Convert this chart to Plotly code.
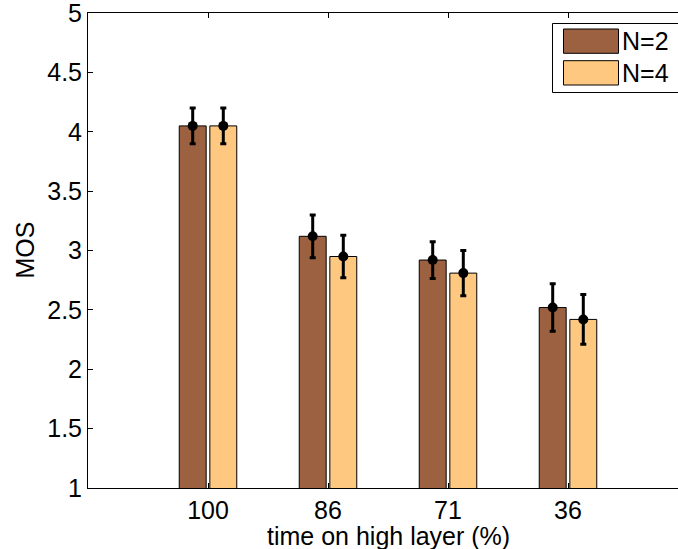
import plotly.graph_objects as go

categories = ["100", "86", "71", "36"]
mos_n2 = [4.05, 3.12, 2.92, 2.52]
mos_n4 = [4.05, 2.95, 2.81, 2.42]
err_n2 = [0.15, 0.18, 0.155, 0.20]
err_n4 = [0.15, 0.18, 0.19, 0.21]
series_names = ["N=2", "N=4"]
xpos = [1, 2, 3, 4]
yticks = [1, 1.5, 2, 2.5, 3, 3.5, 4, 4.5, 5]

c_n2 = "#9B6140"
c_n4 = "#FFC880"
FONT = "Liberation Sans, Arial, Helvetica, sans-serif"
FS = 25

L, T, B = 88, 13, 488
PW, PH = 678 - L, B - T

fig = go.Figure()
for name, vals, col in [(series_names[0], mos_n2, c_n2), (series_names[1], mos_n4, c_n4)]:
    fig.add_trace(go.Bar(x=xpos, y=vals, base=0, name=name, offsetgroup=name,
                         marker=dict(color=col, line=dict(color="black", width=1)),
                         showlegend=False))
for name, vals, errs in [(series_names[0], mos_n2, err_n2), (series_names[1], mos_n4, err_n4)]:
    fig.add_trace(go.Scatter(x=xpos, y=vals, mode="markers", offsetgroup=name,
                             marker=dict(symbol="circle", size=10, color="black"),
                             error_y=dict(type="data", array=errs, color="black",
                                          thickness=3, width=3),
                             showlegend=False))

fig.update_layout(
    width=678, height=549,
    margin=dict(l=L, r=0, t=T, b=549 - B),
    paper_bgcolor="white", plot_bgcolor="white",
    barmode="group", bargap=0.49, bargroupgap=0.12,
    scattermode="group", scattergap=0.49,
    font=dict(family=FONT, size=FS, color="black"),
    xaxis=dict(range=[0, (678 - L) / 120], tickvals=xpos, ticktext=categories,
               ticks="inside", ticklen=5, tickcolor="black", showline=True,
               linecolor="black", linewidth=1, showgrid=False, zeroline=False,
               automargin=False),
    xaxis2=dict(overlaying="x", matches="x", side="top",
                tickvals=xpos, showticklabels=False, ticks="inside", ticklen=5,
                tickcolor="black", showline=True, linecolor="black", linewidth=1,
                showgrid=False, zeroline=False, automargin=False),
    yaxis=dict(range=[1, 5.001], tickvals=yticks, ticktext=[f"{v:g}" for v in yticks],
               ticks="inside", ticklen=5, tickcolor="black",
               showline=True, linecolor="black", linewidth=1, showgrid=False,
               zeroline=False, automargin=False, ticklabeloverflow="allow"),
)
fig.add_trace(go.Scatter(x=[None], y=[None], xaxis="x2", showlegend=False))

# axis titles
fig.add_annotation(xref="paper", yref="paper", x=(388 - L) / PW, y=0, yshift=-48,
                   text="time on high layer (%)", showarrow=False,
                   xanchor="center", yanchor="middle", font=dict(size=FS))
fig.add_annotation(xref="paper", yref="paper", x=0, xshift=24 - L, y=0.5,
                   text="MOS", textangle=-90, showarrow=False,
                   xanchor="center", yanchor="middle", font=dict(size=FS))

# legend box
fig.add_shape(type="rect", xref="paper", yref="paper",
              x0=(552.5 - L) / PW, x1=1.02, y0=(B - 92.5) / PH, y1=(B - 23.5) / PH,
              line=dict(color="black", width=1), fillcolor="white")
for i, (name, col) in enumerate([(series_names[0], c_n2), (series_names[1], c_n4)]):
    ytop = 29 + i * 31.7
    fig.add_shape(type="rect", xref="paper", yref="paper",
                  x0=(563.5 - L) / PW, x1=(618.5 - L) / PW,
                  y0=(B - ytop - 24.3) / PH, y1=(B - ytop) / PH,
                  line=dict(color="black", width=1), fillcolor=col)
    fig.add_annotation(xref="paper", yref="paper", x=(620 - L) / PW,
                       y=(B - ytop - 12.2) / PH, text=name, showarrow=False,
                       xanchor="left", yanchor="middle", font=dict(size=FS))

fig.write_html("out.html", config={"displayModeBar": False},
               post_script="document.body.style.margin='0';document.body.style.overflow='hidden';")
